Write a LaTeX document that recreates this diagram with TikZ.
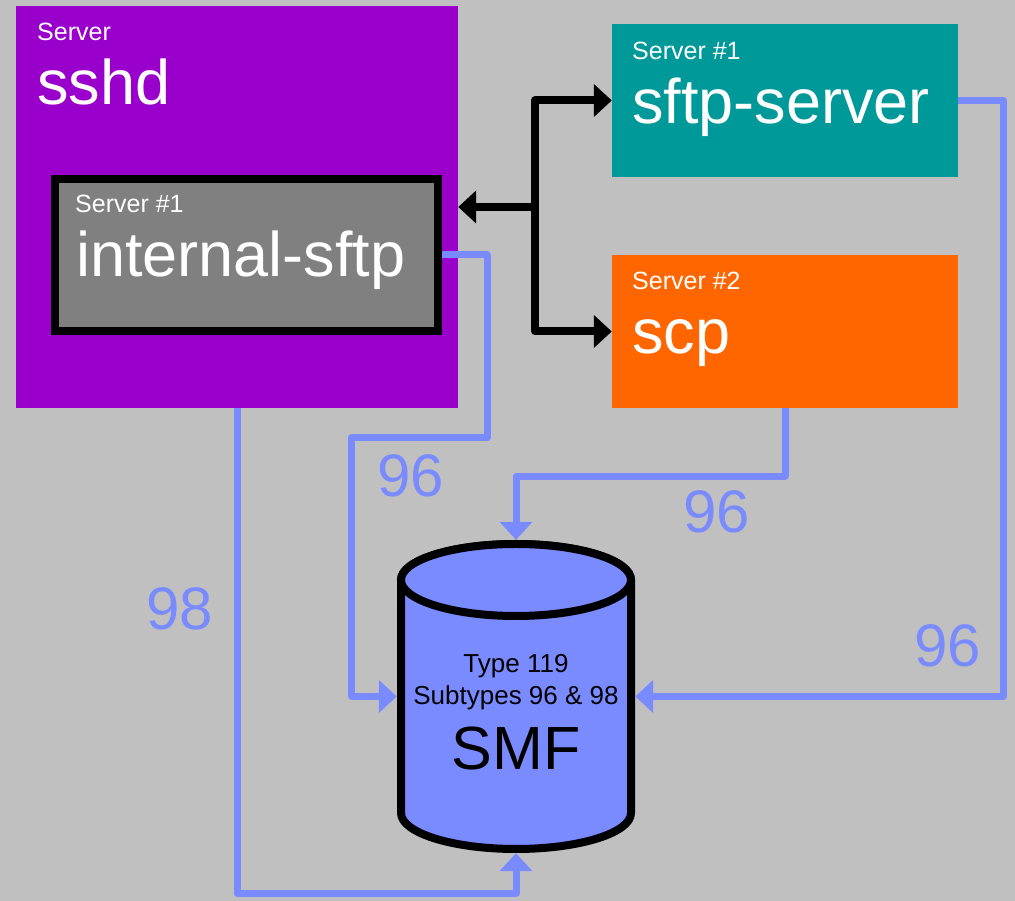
\documentclass[tikz,border=0pt]{standalone}
\usepackage{fontspec}
\setmainfont{Liberation Sans}
\usetikzlibrary{arrows.meta}
\definecolor{backgray}{HTML}{C0C0C0}
\definecolor{sshdpurple}{HTML}{9900CC}
\definecolor{innergray}{HTML}{808080}
\definecolor{sftpteal}{HTML}{009999}
\definecolor{scporange}{HTML}{FF6600}
\definecolor{flowblue}{HTML}{7A8AFF}

\begin{document}
\begin{tikzpicture}[x=1pt,y=1pt,
    >={Triangle[length=18pt,width=32pt]},
    box/.style={rectangle,inner sep=0pt,minimum width=346pt,minimum height=153pt},
    tag/.style={anchor=base west,inner sep=0pt,text=white,font=\fontsize{25}{30}\selectfont},
    title/.style={anchor=base west,inner sep=0pt,text=white,font=\fontsize{63}{70}\selectfont},
    num/.style={anchor=base west,inner sep=0pt,text=flowblue,font=\fontsize{60}{66}\selectfont},
    link/.style={line width=8pt,line join=round},
    flow/.style={draw=flowblue,line width=7pt,line join=round,->}]
      \useasboundingbox (0,0) rectangle (1015,901);
      \fill[backgray] (0,0) rectangle (1015,901);
      % servers
      \node[box,fill=sshdpurple,minimum width=442pt,minimum height=402pt] (sshd) at (237,694) {};
      \node[box,fill=innergray,draw=black,line width=8pt,minimum width=383pt,minimum height=152pt] (isftp) at (246.5,646) {};
      \node[box,fill=sftpteal] (sftp) at (785,800.5) {};
      \node[box,fill=scporange] (scp) at (785,569.5) {};
      \node[tag] (sshdtag) at (37,860) {Server};
      \node[title] (sshdname) at (37,796) {sshd};
      \node[tag] (isftptag) at (75,688) {Server \#1};
      \node[title] (isftpname) at (76,624) {internal-sftp};
      \node[tag] (sftptag) at (632,841) {Server \#1};
      \node[title] (sftpname) at (632,777) {sftp-server};
      \node[tag] (scptag) at (632,611) {Server \#2};
      \node[title] (scpname) at (632,547) {scp};
      % SMF cylinder
      \draw[fill=flowblue,line width=8pt,line join=round] (401,321) -- (401,88)
        arc[start angle=180,end angle=360,x radius=115,y radius=36] -- (631,321)
        arc[start angle=0,end angle=180,x radius=115,y radius=36] -- cycle;
      \draw[fill=flowblue,line width=8pt] (516,321) ellipse [x radius=115,y radius=36];
      \node[inner sep=0pt,minimum width=238pt,minimum height=313pt] (smf) at (516,204.5) {};
      \node[anchor=base,inner sep=0pt,font=\fontsize{26}{30}\selectfont] (smftype) at (516,228) {Type 119};
      \node[anchor=base,inner sep=0pt,font=\fontsize{26}{30}\selectfont] (smfsub) at (516,196) {Subtypes 96 \& 98};
      \node[anchor=base,inner sep=0pt,font=\fontsize{61}{66}\selectfont] (smfname) at (516,131) {SMF};
      % black links
      \coordinate (hub) at (535,694);
      \draw[link,<->] (sftp.west) -| (hub) |- (scp.west);
      \draw[link,->] (hub) -- (sshd.east |- hub);
      % records to SMF
      \draw[flow] (isftp.east) -| (487,463) -| ([xshift=-45pt]smf.west) -- (smf.west);
      \draw[flow] (scp.south) -- ++(0,-68) -| (smf.north);
      \draw[flow] (sftp.east) -- ++(45,0) |- (smf.east);
      \draw[flow] (sshd.south) -- ++(0,-485) -| (smf.south);
      \node[num] (isftpnum) at (377,404) {96};
      \node[num] (scpnum) at (683,368) {96};
      \node[num] (sftpnum) at (914,234) {96};
      \node[num] (sshdnum) at (146,271) {98};
\end{tikzpicture}
\end{document}
